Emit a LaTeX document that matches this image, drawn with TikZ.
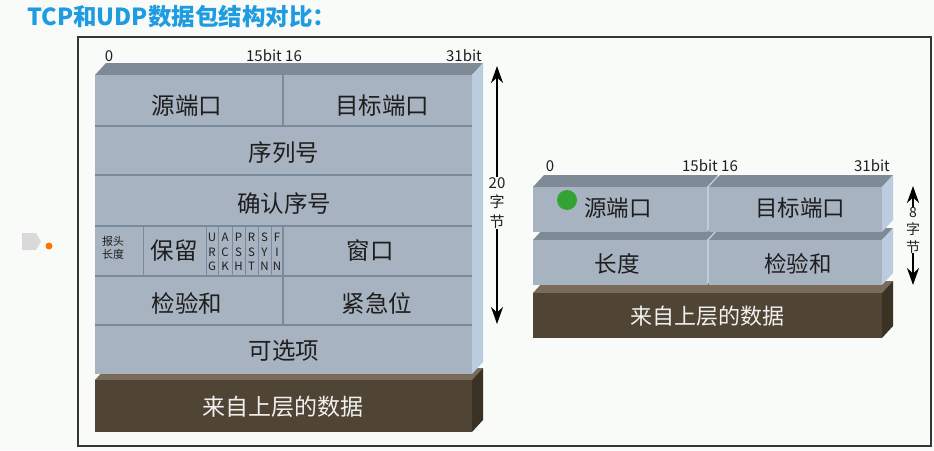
\documentclass[tikz,border=0pt]{standalone}
\usepackage{fontspec}
\newfontfamily\cjk{Noto Sans CJK SC}
\usetikzlibrary{arrows.meta}

\definecolor{pagebg}{RGB}{248,251,248}
\definecolor{titleblue}{RGB}{30,155,225}
\definecolor{framecol}{RGB}{50,55,55}
\definecolor{facecol}{RGB}{167,179,192}
\definecolor{topcol}{RGB}{126,138,149}
\definecolor{sidecol}{RGB}{186,204,221}
\definecolor{rulecol}{RGB}{120,138,155}
\definecolor{datacol}{RGB}{80,69,52}
\definecolor{datatop}{RGB}{122,106,88}
\definecolor{dataside}{RGB}{58,50,36}
\definecolor{txtcol}{RGB}{30,30,30}

% a flat block with top and right faces: x1, y1, x2, y2, front, top, side
\newcommand{\slab}[7]{%
  \fill[#6] (#1,#2) -- ++(11,-12) -- (#3+11,#2-12) -- (#3,#2) -- cycle;
  \fill[#7] (#3,#2) -- ++(11,-12) -- (#3+11,#4-12) -- (#3,#4) -- cycle;
  \fill[#5] (#1,#2) rectangle (#3,#4);
}

\tikzset{
  field/.style={font=\cjk\fontsize{23.5}{23.5}\selectfont, text=txtcol, inner sep=0pt},
  ufield/.style={font=\cjk\fontsize{22.5}{22.5}\selectfont, text=txtcol, inner sep=0pt},
  datatxt/.style={font=\cjk\fontsize{23}{23}\selectfont, text=white!92!datacol, inner sep=0pt},
  bitlbl/.style={font=\cjk\fontsize{15}{15}\selectfont, text=txtcol, inner sep=0pt},
  flag/.style={font=\cjk\fontsize{11.5}{14.5}\selectfont, text=txtcol, align=center, inner sep=0pt},
  lenlbl/.style={font=\cjk\fontsize{15}{19.5}\selectfont, text=txtcol, align=center, inner sep=0pt},
}

\begin{document}
\begin{tikzpicture}[x=1pt, y=-1pt, >={Stealth[length=17pt, width=12pt]}]
  \useasboundingbox (0,0) rectangle (934,450);
  \fill[pagebg] (0,0) rectangle (934,450);

  \node[font=\cjk\bfseries\fontsize{23.5}{23.5}\selectfont, text=titleblue, anchor=west, inner sep=0pt]
    (title) at (27,17) {TCP和UDP数据包结构对比：};

  % slide marker
  \fill[black!15] (22,233) -- (36,233) -- (41,241.5) -- (36,250) -- (22,250) -- cycle;
  \fill[orange!90!red] (49,246) circle (3.5);

  \draw[framecol, line width=2pt] (78,37) rectangle (931,446);

  % TCP
  \slab{95}{380}{472}{432}{datacol}{datatop}{dataside}
  \slab{95}{75}{472}{374}{facecol}{topcol}{sidecol}
  \foreach \y in {126,175,226,276,325}
    \draw[rulecol, line width=1.2pt] (95,\y) -- (472,\y);
  \draw[rulecol, line width=1.2pt] (283,75) -- (283,126);
  \draw[rulecol, line width=1.2pt] (283,226) -- (283,325);
  \foreach \x in {143,206,218,232,245,258,271}
    \draw[rulecol, line width=1pt] (\x,226) -- (\x,276);

  \node[bitlbl] (tcpbit0) at (109,56) {0};
  \node[bitlbl] (tcpbit15) at (274,56) {15bit 16};
  \node[bitlbl, anchor=east] (tcpbit31) at (482,56) {31bit};

  \node[field] (srcport) at (187,106) {源端口};
  \node[field] (dstport) at (382,106) {目标端口};
  \node[field] (seqno) at (284,153) {序列号};
  \node[field] (ackno) at (284,204) {确认序号};
  \node[flag, font=\cjk\fontsize{11}{13}\selectfont] (hdrlen) at (113,248) {报头\\长度};
  \node[field] (rsvd) at (174,251) {保留};
  \node[flag] (urg) at (212,252) {U\\R\\G};
  \node[flag] (ack) at (225,252) {A\\C\\K};
  \node[flag] (psh) at (238.5,252) {P\\S\\H};
  \node[flag] (rst) at (251.5,252) {R\\S\\T};
  \node[flag] (syn) at (264.5,252) {S\\Y\\N};
  \node[flag] (fin) at (277,252) {F\\I\\N};
  \node[field] (window) at (370,251) {窗口};
  \node[field] (cksum) at (187,303) {检验和};
  \node[field] (urgptr) at (377,303) {紧急位};
  \node[field] (opts) at (284,351) {可选项};
  \node[datatxt] (tcpdata) at (283,407) {来自上层的数据};

  \node[lenlbl] (tcplen) at (497,203) {20\\字\\节};
  \coordinate (tcptop) at (497,66);
  \coordinate (tcpbot) at (497,324);
  \draw[->, line width=2.2pt] (tcplen) -- (tcptop);
  \draw[->, line width=2.2pt] (tcplen) -- (tcpbot);

  % UDP
  \slab{533}{293}{882}{338}{datacol}{datatop}{dataside}
  \slab{533}{240}{707}{285}{facecol}{topcol}{sidecol}
  \slab{709}{240}{882}{285}{facecol}{topcol}{sidecol}
  \slab{533}{187}{707}{232}{facecol}{topcol}{sidecol}
  \slab{709}{187}{882}{232}{facecol}{topcol}{sidecol}

  \node[bitlbl] (udpbit0) at (550,166) {0};
  \node[bitlbl] (udpbit15) at (710,166) {15bit 16};
  \node[bitlbl, anchor=east] (udpbit31) at (890,166) {31bit};

  \node[ufield] (usrc) at (618,208) {源端口};
  \node[ufield] (udst) at (800,208) {目标端口};
  \node[ufield] (ulen) at (617,264) {长度};
  \node[ufield] (ucksum) at (798,264) {检验和};
  \node[datatxt, font=\cjk\fontsize{22}{22}\selectfont] (udpdata) at (707,316) {来自上层的数据};

  \node[lenlbl, font=\cjk\fontsize{14}{17.5}\selectfont] (udplen) at (913,230) {8\\字\\节};
  \coordinate (udptop) at (913,186);
  \coordinate (udpbot) at (913,285);
  \draw[->, line width=2.2pt] (udplen) -- (udptop);
  \draw[->, line width=2.2pt] (udplen) -- (udpbot);

  % pointer
  \fill[green!55!black!80!white] (567,200) circle (10);
\end{tikzpicture}
\end{document}
